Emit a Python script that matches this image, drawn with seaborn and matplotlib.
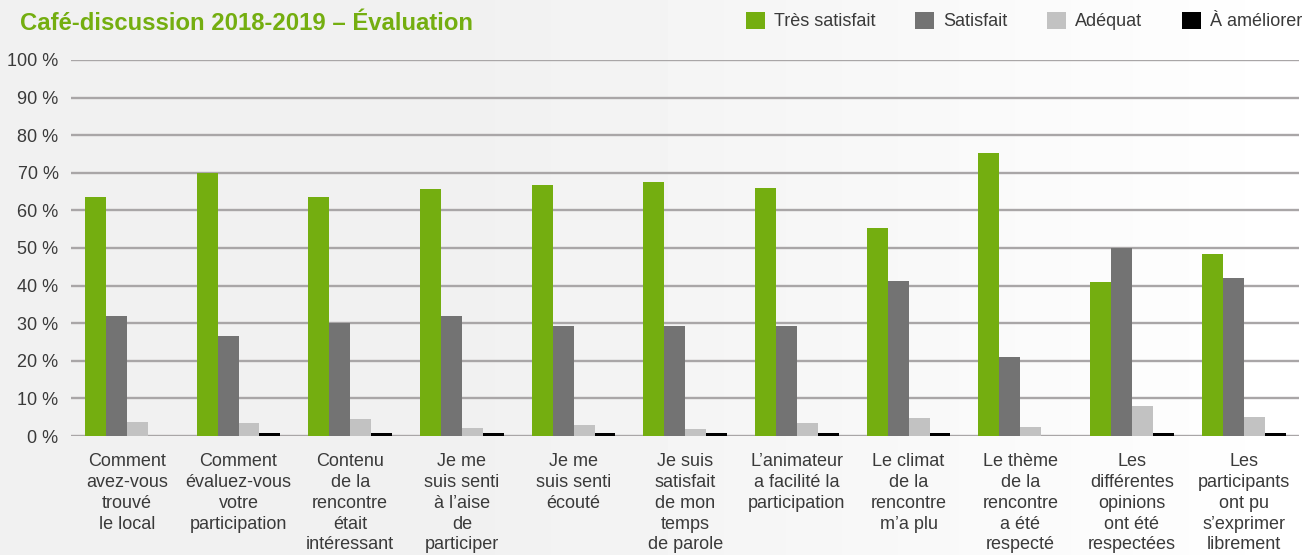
import matplotlib
matplotlib.use('Agg')
import matplotlib.pyplot as plt
import numpy as np
import pandas as pd
import seaborn as sb

questions = [
    'Comment\navez-vous\ntrouvé\nle local',
    'Comment\névaluez-vous\nvotre\nparticipation',
    'Contenu\nde la\nrencontre\nétait\nintéressant',
    'Je me\nsuis senti\nà l\u2019aise\nde\nparticiper',
    'Je me\nsuis senti\nécouté',
    'Je suis\nsatisfait\nde mon\ntemps\nde parole',
    'L\u2019animateur\na facilité la\nparticipation',
    'Le climat\nde la\nrencontre\nm\u2019a plu',
    'Le thème\nde la\nrencontre\na été\nrespecté',
    'Les\ndifférentes\nopinions\nont été\nrespectées',
    'Les\nparticipants\nont pu\ns\u2019exprimer\nlibrement',
]
categories = ['Très satisfait', 'Satisfait', 'Adéquat', 'À améliorer']
tres_satisfait = [63.6, 70.0, 63.6, 65.7, 66.8, 67.6, 66.0, 55.3, 75.2, 41.0, 48.3]
satisfait = [32.0, 26.7, 30.0, 32.0, 29.3, 29.3, 29.3, 41.3, 21.1, 50.0, 41.9]
adequat = [3.7, 3.5, 4.5, 2.1, 2.9, 1.9, 3.5, 4.8, 2.4, 8.0, 5.0]
a_ameliorer = [0.0, 0.8, 0.8, 0.8, 0.8, 0.8, 0.8, 0.8, 0.0, 0.8, 0.8]
colors = ['#74ae10', '#737373', '#c2c2c2', '#000000']

series = [tres_satisfait, satisfait, adequat, a_ameliorer]
df = pd.DataFrame({
    'question': np.tile(questions, len(categories)),
    'categorie': np.repeat(categories, len(questions)),
    'valeur': np.concatenate(series),
})

sb.set_style('white')
plt.rcParams['font.family'] = ['Liberation Sans', 'DejaVu Sans']

fig = plt.figure(figsize=(13.06, 5.55), dpi=100)

# light grey gradient on the left of the background
bg = fig.add_axes([0, 0, 1, 1], zorder=-10)
grad = np.clip(np.linspace(0.945, 1.0, 256) * 1.6 - 0.6, 0.945, 1.0)
bg.imshow(np.tile(grad, (2, 1)), cmap='gray', vmin=0, vmax=1, aspect='auto',
          extent=[0, 1, 0, 1])
bg.axis('off')

ax = fig.add_axes([0.0544, 0.2144, 0.9406, 0.6776])
ax.patch.set_alpha(0)

sb.barplot(data=df, x='question', y='valeur', hue='categorie', hue_order=categories,
           palette=colors, width=0.75, gap=0, saturation=1, linewidth=0,
           ax=ax, zorder=3)

ax.set_ylim(0, 100)
ax.set_xlim(-0.5, len(questions) - 0.5)
ax.set_yticks(range(0, 101, 10))
ax.set_yticklabels([f'{v} %' for v in range(0, 101, 10)])
ax.yaxis.grid(True, color='#a9a6a7', linewidth=1.7, zorder=0)
ax.set_axisbelow(True)
for s in ax.spines.values():
    s.set_visible(False)
ax.tick_params(axis='both', length=0, labelsize=13, labelcolor='#3a3a3a')
ax.tick_params(axis='y', pad=9)
ax.tick_params(axis='x', pad=12.5)
for lbl in ax.get_xticklabels():
    lbl.set_linespacing(1.29)
    lbl.set_multialignment('center')
ax.set_xlabel('')
ax.set_ylabel('')

ax.legend(ncol=4, loc='center right', bbox_to_anchor=(0.997, 0.962),
          bbox_transform=fig.transFigure, frameon=False, fontsize=13,
          handlelength=1.05, handleheight=1.05, handletextpad=0.5,
          columnspacing=2.2, labelcolor='#3a3a3a', borderaxespad=0, borderpad=0)

fig.text(0.0155, 0.958, 'Café-discussion 2018-2019 \u2013 Évaluation', color='#74ae10',
         fontsize=17.2, fontweight='bold', va='center', ha='left')

plt.savefig('out.png', dpi=100)
